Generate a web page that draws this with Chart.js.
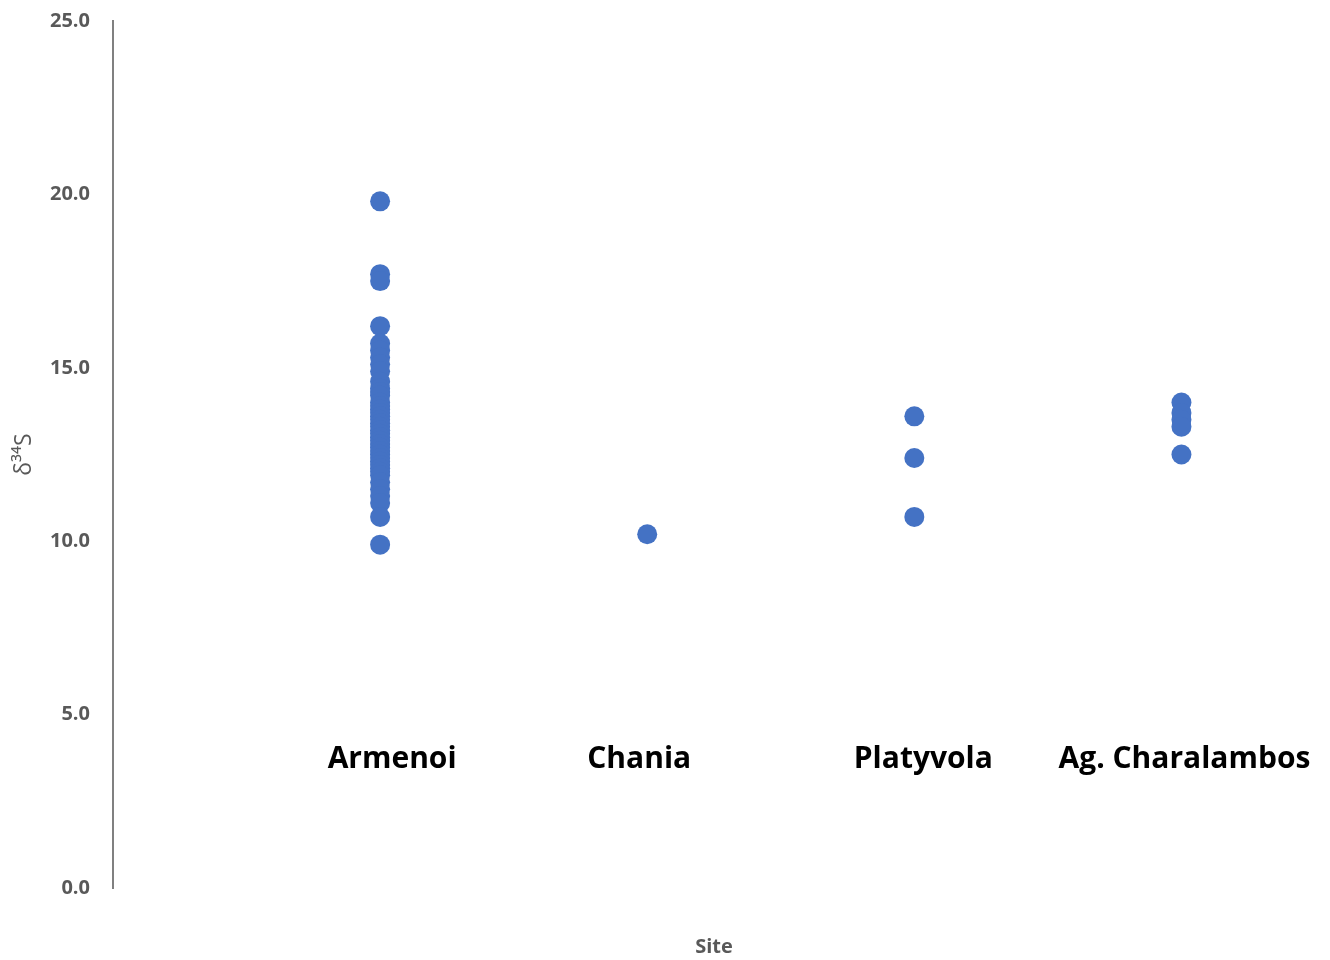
<!DOCTYPE html>
<html>
<head>
<meta charset="utf-8">
<script src="https://cdn.jsdelivr.net/npm/chart.js@4/dist/chart.umd.min.js"></script>
<style>
  html, body { margin: 0; padding: 0; background: #fff; }
  #wrap { width: 1330px; height: 960px; }
</style>
</head>
<body>
<div id="wrap"><canvas id="myChart" width="1330" height="960"></canvas></div>
<script>
// sites along the x axis (positions 1..4)
const sites = ["Armenoi", "Chania", "Platyvola", "Ag. Charalambos"];

// d34S values per site
const armenoi = [19.8, 17.7, 17.5, 16.2, 15.7, 15.5, 15.3, 15.1, 14.9, 14.6, 14.4, 14.3,
	14.2, 14.0, 13.9, 13.8, 13.7, 13.6, 13.5, 13.4, 13.3, 13.2, 13.1, 13.0, 12.9, 12.8,
	12.7, 12.6, 12.5, 12.4, 12.3, 12.2, 12.1, 12.0, 11.9, 11.7, 11.5, 11.3, 11.1, 10.7, 9.9];
const chania = [10.2];
const platyvola = [13.6, 12.4, 10.7];
const agCharalambos = [14.0, 13.7, 13.5, 13.3, 12.5];

const yTicks = [0, 5, 10, 15, 20, 25];

const siteValues = [armenoi, chania, platyvola, agCharalambos];
const points = [];
siteValues.forEach((vals, i) => {
	vals.forEach((v) => points.push({ x: i + 1, y: v }));
});

// site names written inside the plot, just under the data
const siteLabels = {
	id: "siteLabels",
	afterDatasetsDraw(chart, args, opts) {
		const { ctx, scales } = chart;
		ctx.save();
		ctx.font = "bold 30px 'Open Sans'";
		ctx.fillStyle = "#000";
		ctx.textAlign = "center";
		ctx.textBaseline = "middle";
		sites.forEach((name, i) => {
			const px = scales.x.getPixelForValue(i + 1) + opts.nudge[i];
			const py = scales.y.getPixelForValue(opts.level);
			ctx.fillText(name, px, py);
		});
		ctx.restore();
	},
};

const data = {
	datasets: [
		{
			label: "δ34S",
			data: points,
			backgroundColor: "rgb(68, 114, 196)",
			borderWidth: 0,
			pointRadius: 10,
		},
	],
};

const options = {
	responsive: false,
	animation: false,
	layout: { padding: { top: 21, right: 15, bottom: 1, left: 0 } },
	plugins: {
		legend: { display: false },
		tooltip: { enabled: false },
		siteLabels: { level: 3.7, nudge: [12, -8, 9, 3] },
	},
	scales: {
		x: {
			type: "linear",
			min: 0,
			max: 4.5,
			grid: { display: false, drawTicks: false },
			border: { display: false },
			ticks: { display: false },
			title: {
				display: true,
				text: "Site",
				color: "#595959",
				font: { family: "'Open Sans'", size: 20, weight: "bold" },
				padding: 0,
			},
			afterFit: (scale) => {
				scale.height = 71;
				scale.paddingLeft = 0;
				scale.paddingRight = 0;
			},
		},
		y: {
			min: 0,
			max: 25,
			afterBuildTicks: (scale) => { scale.ticks = yTicks.map((v) => ({ value: v })); },
			grid: { display: false, drawTicks: false },
			border: { display: true, color: "#808080", width: 2 },
			ticks: {
				color: "#595959",
				padding: 23,
				font: { family: "'Open Sans'", size: 20, weight: "bold" },
				callback: (v) => Number(v).toFixed(1),
			},
			title: {
				display: true,
				text: "δ³⁴S",
				color: "#595959",
				font: { family: "'Open Sans'", size: 23 },
				padding: { top: 11, bottom: 0 },
			},
			afterFit: (scale) => {
				scale.width = 113;
				scale.paddingTop = 0;
				scale.paddingBottom = 0;
			},
		},
	},
};

const config = {
	type: "scatter",
	data: data,
	options: options,
	plugins: [siteLabels],
};

const myChart = new Chart(document.getElementById("myChart"), config);
</script>
</body>
</html>
